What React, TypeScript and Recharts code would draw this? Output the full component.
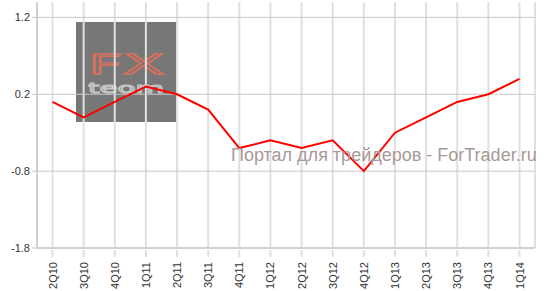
import React from 'react';
import { LineChart, Line, XAxis, YAxis, CartesianGrid } from 'recharts';

const quarters = ['2Q10', '3Q10', '4Q10', '1Q11', '2Q11', '3Q11', '4Q11', '1Q12', '2Q12', '3Q12', '4Q12', '1Q13', '2Q13', '3Q13', '4Q13', '1Q14'];
const growth = [0.1, -0.1, 0.1, 0.3, 0.2, 0.0, -0.5, -0.4, -0.5, -0.4, -0.8, -0.3, -0.1, 0.1, 0.2, 0.4];
const yTicks = [-1.8, -0.8, 0.2, 1.2];

const data = quarters.map((q, i) => ({ q, v: growth[i] }));

function QuarterTick({ x, y, payload }: any) {
  return (
    <g>
      <line x1={x} y1={y - 6} x2={x} y2={y + 1} stroke="#e0e0e0" strokeWidth={2} />
      <text
        x={x}
        y={y + 6}
        transform={`rotate(-90 ${x} ${y + 6})`}
        textAnchor="end"
        dominantBaseline="central"
        fontSize={11}
        fill="#333"
        fontFamily="Arial, 'Liberation Sans', sans-serif"
      >
        {payload.value}
      </text>
    </g>
  );
}

export default function App() {
  return (
    <div style={{ position: 'absolute', left: 0, top: 0, width: 547, height: 291, background: '#fff' }}>
      <div style={{ position: 'absolute', left: 76, top: 22, width: 100, height: 100, background: '#777' }}>
        <svg width={100} height={100}>
          <text x={12} y={52} fontSize={26} fontFamily="'DejaVu Sans', sans-serif"
            fill="none" stroke="#d8705e" strokeWidth={1.3} textLength={76} lengthAdjust="spacingAndGlyphs">FX</text>
          <text x={12} y={71} fontSize={14} fontFamily="'DejaVu Sans', sans-serif"
            fill="none" stroke="#c8c8c8" strokeWidth={1} textLength={76} lengthAdjust="spacingAndGlyphs">teom</text>
        </svg>
      </div>
      <div style={{ position: 'absolute', left: 0, top: 0 }}>
        <LineChart width={547} height={291} data={data} margin={{ top: 2, right: 12, left: 0, bottom: 0 }}>
          <CartesianGrid horizontal={false} stroke="#e0e0e0" strokeWidth={2} />
          <CartesianGrid vertical={false} stroke="#c8c8c8" horizontalValues={yTicks} />
          <XAxis
            dataKey="q"
            interval={0}
            height={43}
            padding={{ left: 15.5, right: 15.5 }}
            axisLine={{ stroke: '#d0d0d0', strokeWidth: 2 }}
            tickLine={false}
            tick={<QuarterTick />}
          />
          <YAxis
            width={37}
            domain={[-1.8, 1.4]}
            ticks={yTicks}
            allowDataOverflow
            axisLine={{ stroke: '#d0d0d0', strokeWidth: 2 }}
            tickLine={{ stroke: '#c8c8c8' }}
            tickSize={5}
            tickFormatter={(v: number) => v.toFixed(1)}
            tick={{ fontSize: 11, fill: '#333', fontFamily: "Arial, 'Liberation Sans', sans-serif" }}
          />
          <Line type="linear" dataKey="v" stroke="#ff0000" strokeWidth={2} dot={false} isAnimationActive={false} />
        </LineChart>
      </div>
      <div style={{
        position: 'absolute', left: 231, top: 145, fontSize: 18, color: '#a89898', whiteSpace: 'nowrap',
        fontFamily: "Arial, 'Liberation Sans', sans-serif", pointerEvents: 'none',
      }}>
        Портал для трейдеров - ForTrader.ru
      </div>
    </div>
  );
}
